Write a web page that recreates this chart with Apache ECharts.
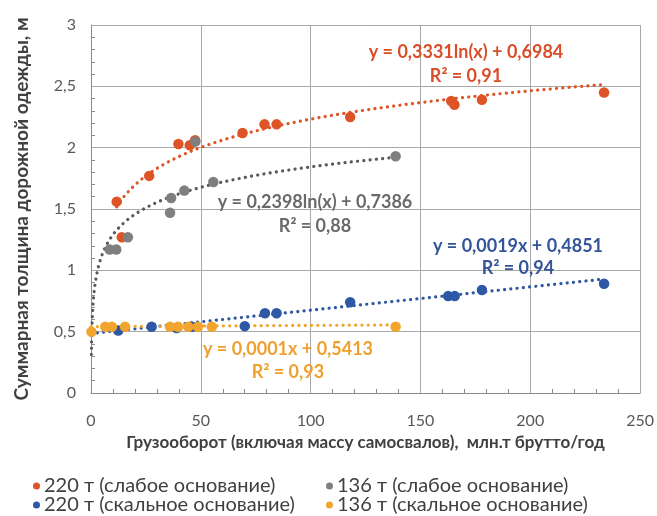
<!DOCTYPE html>
<html>
<head>
<meta charset="utf-8">
<script src="https://cdn.jsdelivr.net/npm/echarts@6/dist/echarts.min.js"></script>
<style>
html,body{margin:0;padding:0;background:#fff;}
#c{width:657px;height:516px;}
</style>
</head>
<body>
<div id="c"></div>
<script>
// ---- data ----
var orangeX = [11.7, 14, 26.5, 39.8, 45, 47.4, 69, 79, 84.5, 118, 164, 165.5, 178, 233.6];
var orangeY = [1.56, 1.27, 1.77, 2.03, 2.02, 2.06, 2.12, 2.19, 2.19, 2.25, 2.38, 2.35, 2.39, 2.45];

var greyX = [8.5, 11.5, 16.8, 36, 36.5, 42.5, 47.5, 55.7, 138.7];
var greyY = [1.17, 1.17, 1.27, 1.47, 1.59, 1.65, 2.05, 1.72, 1.93];

var blueX = [12.4, 27.6, 39, 46, 70, 79.2, 84.5, 118, 162.6, 165.6, 178, 233.6];
var blueY = [0.51, 0.54, 0.53, 0.54, 0.545, 0.65, 0.65, 0.74, 0.79, 0.79, 0.84, 0.89];

var yellowX = [0.2, 6.5, 9.5, 15.5, 36, 39.6, 44.3, 48.7, 55, 138.7];
var yellowY = [0.50, 0.54, 0.54, 0.54, 0.54, 0.54, 0.54, 0.54, 0.54, 0.54];

// trendline coefficients as printed on the chart
var orangeTrend = [0.3331, 0.6984];   // y = a ln(x) + b
var greyTrend = [0.2398, 0.7386];     // y = a ln(x) + b
var blueTrend = [0.0019, 0.4851];     // y = a x + b
var yellowTrend = [0.0001, 0.5413];   // y = a x + b
var orangeRange = [11.7, 233.6];
var greyRange = [0.17, 138.7];
var blueRange = [0, 233.6];
var yellowRange = [0, 138.7];

var seriesNames = ['220 т (слабое основание)', '136 т (слабое основание)', '220 т (скальное основание)', '136 т (скальное основание)'];
var eqTexts = [
  ['y = 0,3331ln(x) + 0,6984', 'R² = 0,91'],
  ['y = 0,2398ln(x) + 0,7386', 'R² = 0,88'],
  ['y = 0,0019x + 0,4851', 'R² = 0,94'],
  ['y = 0,0001x + 0,5413', 'R² = 0,93']
];
var xTicks = [0, 50, 100, 150, 200, 250];
var yTicks = [0, 0.5, 1, 1.5, 2, 2.5, 3];

// ---- styles ----
var C_OR = '#DF5427', C_GR = '#7F7F7F', C_BL = '#2E58A6', C_YE = '#F2A52E';
var TXT_OR = '#D84E28', TXT_GR = '#6A6A6A', TXT_BL = '#34549A', TXT_YE = '#EFA02C';

function zip(xs, ys){ return xs.map(function(x,i){ return [x, ys[i]]; }); }
function lnCurve(co, r){
  var out = [], n = 300;
  for (var i=0;i<=n;i++){ var x = r[0] * Math.pow(r[1]/r[0], i/n); out.push([x, co[0]*Math.log(x)+co[1]]); }
  return out;
}
function linCurve(co, r){ return [[r[0], co[0]*r[0]+co[1]], [r[1], co[0]*r[1]+co[1]]]; }

var dotted = function(c){ return {color:c, width:3.2, type:[0.1, 6.2], cap:'round'}; };

var chart = echarts.init(document.getElementById('c'), null, {renderer:'canvas'});
var FONT = 'Lato';
function leg(name, left, top){
  return {data:[name], orient:'horizontal', left:left, top:top, itemGap:0, padding:0,
    icon:'circle', itemWidth:7, itemHeight:7, itemStyle:{borderWidth:0},
    textStyle:{fontFamily:FONT, fontSize:20, color:'#404040', padding:[0,0,0,-1]}};
}
var option = {
  animation:false,
  backgroundColor:'#fff',
  grid:{left:91, right:16, top:25, bottom:123},
  xAxis:{
    type:'value', min:xTicks[0], max:xTicks[xTicks.length-1], interval:50,
    name:'Грузооборот (включая массу самосвалов),  млн.т брутто/год',
    nameLocation:'middle', nameGap:40,
    nameTextStyle:{fontFamily:FONT, fontWeight:'bold', fontSize:17, color:'#404040'},
    axisLine:{show:true, lineStyle:{color:'#8c8c8c', width:1}},
    axisTick:{show:false, inside:true},
    minorTick:{show:true, splitNumber:5, length:4, lineStyle:{color:'#8c8c8c'}},
    axisLabel:{fontFamily:FONT, fontSize:16, color:'#595959', margin:20},
    splitLine:{show:true, lineStyle:{color:'#a8a8a8', width:1}}
  },
  yAxis:{
    type:'value', min:yTicks[0], max:yTicks[yTicks.length-1], interval:0.5,
    name:'Суммарная толщина дорожной одежды, м',
    nameLocation:'middle', nameGap:60, nameRotate:90,
    nameTextStyle:{fontFamily:FONT, fontWeight:'bold', fontSize:19, color:'#404040'},
    axisLine:{show:true, lineStyle:{color:'#8c8c8c', width:1}},
    axisTick:{show:false, inside:true},
    minorTick:{show:true, splitNumber:5, length:4, lineStyle:{color:'#8c8c8c'}},
    axisLabel:{fontFamily:FONT, fontSize:16, color:'#595959', margin:15,
      formatter:function(v){ return String(v).replace('.', ','); }},
    splitLine:{show:true, lineStyle:{color:'#a8a8a8', width:1}}
  },
  legend:[
    leg(seriesNames[0], 33, 476),
    leg(seriesNames[2], 33, 495),
    leg(seriesNames[1], 326, 476),
    leg(seriesNames[3], 326, 495)
  ],
  series:[
    {name:'tr0', type:'line', data:lnCurve(orangeTrend, orangeRange), showSymbol:false, symbol:'none', lineStyle:dotted(C_OR), z:2, silent:true},
    {name:'tr1', type:'line', data:lnCurve(greyTrend, greyRange), showSymbol:false, symbol:'none', lineStyle:dotted('#595959'), z:2, silent:true},
    {name:'tr2', type:'line', data:linCurve(blueTrend, blueRange), showSymbol:false, symbol:'none', lineStyle:dotted(C_BL), z:2, silent:true},
    {name:'tr3', type:'line', data:linCurve(yellowTrend, yellowRange), showSymbol:false, symbol:'none', lineStyle:dotted(C_YE), z:2, silent:true},
    {name:seriesNames[0], type:'scatter', data:zip(orangeX, orangeY), symbolSize:10.5, itemStyle:{color:C_OR, opacity:1}, z:3},
    {name:seriesNames[1], type:'scatter', data:zip(greyX, greyY), symbolSize:10.5, itemStyle:{color:C_GR, opacity:1}, z:3},
    {name:seriesNames[2], type:'scatter', data:zip(blueX, blueY), symbolSize:10.5, itemStyle:{color:C_BL, opacity:1}, z:3},
    {name:seriesNames[3], type:'scatter', data:zip(yellowX, yellowY), symbolSize:10.5, itemStyle:{color:C_YE, opacity:1}, z:3}
  ]
};
var labelPos = [[466, 52, 76], [315, 202, 226], [518, 246, 268], [288, 349, 372]];
var labelCol = [TXT_OR, TXT_GR, TXT_BL, TXT_YE];
var g = [];
eqTexts.forEach(function(t, i){
  var p = labelPos[i];
  g.push({type:'text', x:p[0], y:p[1], z:10, style:{text:t[0], fill:labelCol[i], font:'bold 18px '+FONT, textAlign:'center', textVerticalAlign:'middle'}});
  g.push({type:'text', x:p[0], y:p[2], z:10, style:{text:t[1], fill:labelCol[i], font:'bold 18px '+FONT, textAlign:'center', textVerticalAlign:'middle'}});
});
option.graphic = g;
chart.setOption(option);
</script>
</body>
</html>
